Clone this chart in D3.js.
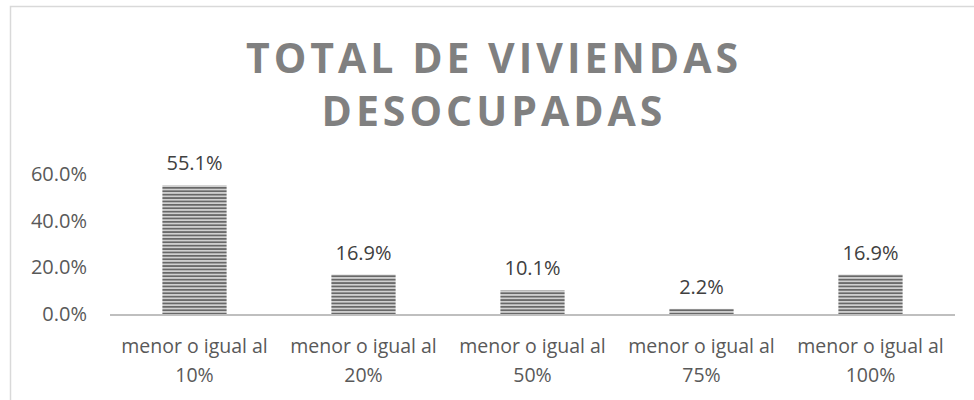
<!DOCTYPE html>
<html>
<head>
<meta charset="utf-8">
<script src="https://cdn.jsdelivr.net/npm/d3@7"></script>
<style>
  body { margin: 0; background: #fff; }
  text { font-family: "Open Sans", "Liberation Sans", sans-serif; }
</style>
</head>
<body>
<div id="chart"></div>
<script>
const categories = ["menor o igual al 10%", "menor o igual al 20%", "menor o igual al 50%", "menor o igual al 75%", "menor o igual al 100%"];
const catLine1 = ["menor o igual al", "menor o igual al", "menor o igual al", "menor o igual al", "menor o igual al"];
const catLine2 = ["10%", "20%", "50%", "75%", "100%"];
const values = [55.1, 16.9, 10.1, 2.2, 16.9];
const yTicks = [0, 20, 40, 60];
const titleLines = ["TOTAL DE VIVIENDAS", "DESOCUPADAS"];

const W = 974, H = 400;
const svg = d3.select("#chart").append("svg")
    .attr("width", W).attr("height", H);

// stripe pattern for the bars
const defs = svg.append("defs");
const pat = defs.append("pattern")
    .attr("id", "stripes")
    .attr("patternUnits", "userSpaceOnUse")
    .attr("width", 8).attr("height", 3.4);
pat.append("rect").attr("width", 8).attr("height", 3.4).attr("fill", "#d0d0d0");
pat.append("rect").attr("y", 0).attr("width", 8).attr("height", 1.7).attr("fill", "#686868");

// chart border
svg.append("rect")
    .attr("x", 10.5).attr("y", 6.5)
    .attr("width", W + 10).attr("height", H + 10)
    .attr("fill", "none").attr("stroke", "#d9d9d9").attr("stroke-width", 1.5);

// title
const title = svg.append("text")
    .attr("text-anchor", "middle")
    .attr("fill", "#808080")
    .style("font-size", "41px")
    .style("font-weight", "bold")
    .style("letter-spacing", "4px");
titleLines.forEach((t, i) => {
    title.append("tspan").attr("x", 494).attr("y", 73 + i * 53).text(t);
});

const margin = { left: 110, right: 19 };
const x = d3.scaleBand().domain(categories).range([margin.left, W - margin.right]).paddingInner(0.62).paddingOuter(0.31);
const y = d3.scaleLinear().domain([0, 60]).range([314, 174]);

// y axis labels
svg.append("g").selectAll("text")
    .data(yTicks).enter().append("text")
    .attr("x", 87).attr("y", d => y(d) + 7)
    .attr("text-anchor", "end")
    .attr("fill", "#595959")
    .style("font-size", "20px")
    .text(d => d.toFixed(1) + "%");

// bars
svg.append("g").selectAll("rect")
    .data(values).enter().append("rect")
    .attr("x", (d, i) => x(categories[i]))
    .attr("y", d => y(d))
    .attr("width", x.bandwidth())
    .attr("height", d => y(0) - y(d))
    .attr("fill", "url(#stripes)");

// axis line
svg.append("line")
    .attr("x1", margin.left).attr("x2", W - margin.right)
    .attr("y1", y(0) + 1).attr("y2", y(0) + 1)
    .attr("stroke", "#bfbfbf").attr("stroke-width", 2);

// data labels
svg.append("g").selectAll("text")
    .data(values).enter().append("text")
    .attr("x", (d, i) => x(categories[i]) + x.bandwidth() / 2)
    .attr("y", d => y(d) - 15)
    .attr("text-anchor", "middle")
    .attr("fill", "#404040")
    .style("font-size", "20px")
    .text(d => d.toFixed(1) + "%");

// category labels
const cat = svg.append("g").selectAll("text")
    .data(categories).enter().append("text")
    .attr("text-anchor", "middle")
    .attr("fill", "#595959")
    .style("font-size", "19.5px");
cat.append("tspan")
    .attr("x", d => x(d) + x.bandwidth() / 2).attr("y", 353)
    .text((d, i) => catLine1[i]);
cat.append("tspan")
    .attr("x", d => x(d) + x.bandwidth() / 2).attr("y", 382)
    .text((d, i) => catLine2[i]);
</script>
</body>
</html>
